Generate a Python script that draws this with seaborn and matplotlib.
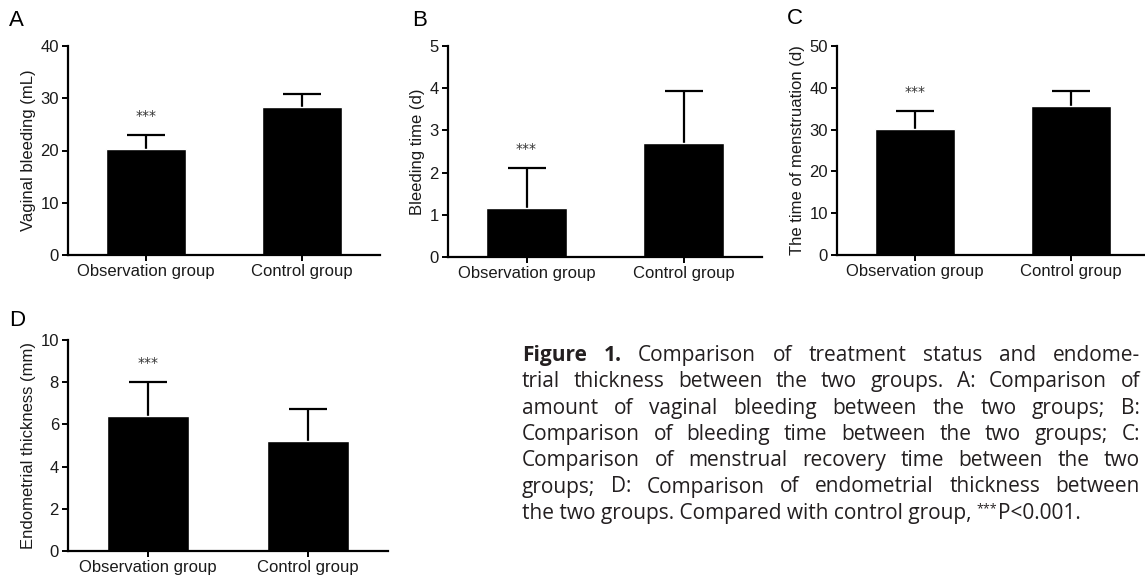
import matplotlib
matplotlib.use('Agg')
import matplotlib.pyplot as plt
import numpy as np
import seaborn as sns

# Data (mean, upper error)
groups = ['Observation group', 'Control group']

bleeding_mean = [20.3, 28.3]
bleeding_sd = [2.7, 2.5]

bleed_time_mean = [1.17, 2.70]
bleed_time_sd = [0.93, 1.23]

menstruation_mean = [30.1, 35.6]
menstruation_sd = [4.3, 3.6]

endometrium_mean = [6.40, 5.21]
endometrium_sd = [1.61, 1.52]

caption_lines = [
    'Figure 1. Comparison of treatment status and endome-',
    'trial thickness between the two groups. A: Comparison of',
    'amount of vaginal bleeding between the two groups; B:',
    'Comparison of bleeding time between the two groups; C:',
    'Comparison of menstrual recovery time between the two',
    'groups; D: Comparison of endometrial thickness between',
]
caption_last = ['the two groups. Compared with control group,', '***', 'P<0.001.']

sns.set_style('ticks')
plt.rcParams['font.family'] = ['Liberation Sans', 'DejaVu Sans']

W, H = 1145, 579
fig = plt.figure(figsize=(W / 100, H / 100), dpi=100)
ink = '#1a1a1a'


def add_ax(l, t, r, b):
    return fig.add_axes([l / W, 1 - b / H, (r - l) / W, (b - t) / H])


panels = [
    ('A', 'Vaginal bleeding (mL)', bleeding_mean, bleeding_sd, 40, 10, (68, 46, 380, 255), (9, 21)),
    ('B', 'Bleeding time (d)', bleed_time_mean, bleed_time_sd, 5, 1, (448, 46, 762, 257), (412, 21)),
    ('C', 'The time of menstruation (d)', menstruation_mean, menstruation_sd, 50, 10, (837, 46, 1149, 255), (787, 18)),
    ('D', 'Endometrial thickness (mm)', endometrium_mean, endometrium_sd, 10, 2, (68, 340, 388, 551), (9, 320)),
]

for letter, ylabel, means, sds, ymax, step, rect, lpos in panels:
    ax = add_ax(*rect)
    sns.barplot(x=groups, y=means, color='black', width=0.51, errorbar=None,
                saturation=1, ax=ax, zorder=2)
    # upper error bars only
    eb = ax.errorbar([0, 1], means, yerr=[[0, 0], sds], fmt='none', ecolor='black',
                     elinewidth=1.6, capsize=14, capthick=1.6, zorder=1)
    for cap in eb[1]:
        if np.allclose(cap.get_ydata(), means):
            cap.set_visible(False)
    ax.set_xlim(-0.5, 1.5)
    ax.set_ylim(0, ymax)
    ax.set_yticks(range(0, ymax + 1, step))
    ax.set_ylabel(ylabel, fontsize=12, color=ink, labelpad=3)
    ax.set_xlabel('')
    sns.despine(ax=ax)
    for side in ['left', 'bottom']:
        ax.spines[side].set_linewidth(1.6)
        ax.spines[side].set_color('black')
    ax.tick_params(axis='both', labelsize=12, labelcolor=ink, width=1.4,
                   length=4.5, color='black', pad=2)
    # significance stars over the observation group
    ax.text(0, means[0] + sds[0] + 0.09 * ymax, '***', ha='center', va='center',
            fontsize=10, color='#333333', family='DejaVu Sans')
    fig.text(lpos[0] / W, 1 - lpos[1] / H, letter, ha='left', va='center',
             fontsize=16, color='black')

# Caption, justified by hand
renderer = fig.canvas.get_renderer()
cap_font = dict(family=['Open Sans', 'DejaVu Sans'], fontsize=15, color='#231f20')


def text_width(s, **kw):
    t = fig.text(0, 0, s, **kw)
    w = t.get_window_extent(renderer).width
    t.remove()
    return w


x0, x1 = 522, 1140
base0, line_gap = 361, 26.3

for i, line in enumerate(caption_lines):
    words = line.split(' ')
    weights = ['normal'] * len(words)
    if i == 0:
        weights[0] = weights[1] = 'bold'
    widths = [text_width(w, fontweight=wt, **cap_font) for w, wt in zip(words, weights)]
    gap = (x1 - x0 - sum(widths)) / (len(words) - 1)
    x = x0
    y = base0 + i * line_gap
    for w, wt, wd in zip(words, weights, widths):
        fig.text(x / W, 1 - y / H, w, ha='left', va='baseline', fontweight=wt, **cap_font)
        x += wd + gap

# last line, left aligned, with superscript stars
y = base0 + len(caption_lines) * line_gap
space = text_width('a a', **cap_font) - text_width('aa', **cap_font)
x = x0
fig.text(x / W, 1 - y / H, caption_last[0], ha='left', va='baseline', **cap_font)
x += text_width(caption_last[0], **cap_font) + space
star_font = dict(cap_font, fontsize=9)
fig.text(x / W, 1 - (y - 7) / H, caption_last[1], ha='left', va='baseline', **star_font)
x += text_width(caption_last[1], **star_font)
fig.text(x / W, 1 - y / H, caption_last[2], ha='left', va='baseline', **cap_font)

fig.savefig('out.png', dpi=100)
